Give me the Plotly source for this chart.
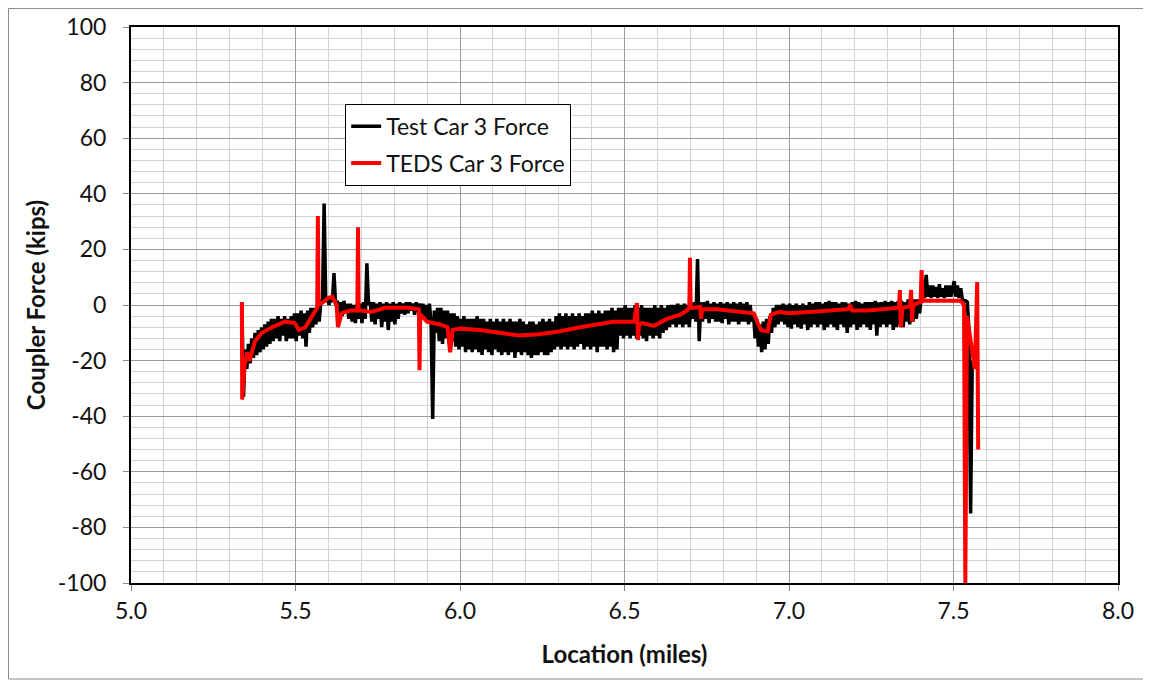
import plotly.graph_objects as go

# ---- Test Car 3 Force (regularly sampled, start location + step) ----
test_loc_start = 5.337
test_loc_step = 0.005
test_force = [
    1, -33, -16, -23, -14, -21, -12, -19, -10, -18,
    -9, -17, -8, -16, -7, -15, -6, -14, -5, -13,
    -5, -12, -4, -13, -5, -11, -4, -13, -5, -12,
    -4, -12, -3, -13, -3, -11, -2, -12, -3, -15,
    -2, -10, -1, -8, -1, -7, 0, -6, 1, 2,
    36.5, 1, 3, 0, 3, 1, 11.5, 0, 1.5, -3.5,
    1, -4, 1.5, -3, 0.5, -5, 0.5, -6, 0, -6.5,
    0.5, -5, 0.5, -6.5, 1, -5, 15, 0, 1, -6,
    1, -7, 0.5, -5, 1, -8, 0.5, -6, 1, -9,
    0.5, -6, 1, -7, 0.5, -5, 1, -3, 0.5, -3.5,
    1, -3, 1, -2, 0.5, -3.5, 1, -2.5, 0.5, -3,
    0.5, -4, 0, -6.5, 0.5, -6, -41, -2, -10, -1,
    -13, -1, -14, -2, -12, -2, -14, -3, -13, -3,
    -15, -4, -16, -5, -15, -4, -17, -5, -16, -5,
    -17, -5, -16, -4, -17, -5, -18, -5, -16, -6,
    -17, -5, -18, -6, -16, -5, -17, -6, -18, -5,
    -17, -6, -18, -5, -17, -6, -19, -6, -17, -5,
    -18, -6, -17, -7, -18, -6, -19, -6, -18, -7,
    -18, -6, -17, -5, -18, -6, -18, -5, -17, -6,
    -16, -4, -15, -3, -16, -4, -15, -3, -16, -4,
    -15, -3, -16, -4, -15, -3, -14, -4, -16, -3,
    -15, -3, -16, -2, -15, -3, -17, -2, -15, -3,
    -15, -2, -16, -2, -15, -1, -17, -2, -16, -1,
    -11, -1, -12, 0, -11, -1, -12, -1, -11, 0,
    -12, -1, -11, 0, -12, -1, -13, -1, -11, -1,
    -12, 0, -11, -1, -12, 0, -10, -1, -9, 0,
    -8, 0, -7, 0, -8, 0.5, -7, 0, -8, 0.5,
    -7, 0, -8, 0.5, -5, 1, -6, 16.5, -13, 1,
    -6, 1, -5, 1.5, -6.5, 0.5, -5, 1, -6, 0.5,
    -6, 1, -6.5, 0.5, -5, 1, -7, 0.5, -6, 1,
    -6, 0.5, -7, 1, -6, 0.5, -6, 1, -7, 0,
    -6, -3, -12, -5, -15, -7, -17, -6, -16, -5,
    -14, -4, -10, -1, -8, 0, -7, 0, -6, 0.5,
    -7, 0, -8, 0.5, -8.5, 0, -7, 0.5, -8, 0,
    -8.5, 0.5, -7, 0, -9, 1, -8, 0.5, -7, 1,
    -8, 1, -7, 0.5, -9, 1, -8, 1.5, -7, 1,
    -8, 1, -9, 0.5, -7, 1, -8, 1, -10, 0.5,
    -8, 1, -7, 1.5, -9, 1, -8, 0.5, -7, 1,
    -8, 1, -9, 1, -7, 1.5, -11, 1, -8, 1,
    -7, 1.5, -8, 1, -7, 1.5, -9, 1, -8, 1.5,
    -7, 1.5, -8, 1, -6, 2, -7, 1.5, -6, 2,
    -5, 2, -3, 3, 5, 2.5, 10.8, 3, 7, 2.5,
    7, 3, 6.5, 2.5, 7.5, 3, 6, 2.5, 7, 3,
    7, 3, 6, 8.6, 3, 7, 2.5, 6, 2, 1.5,
    1.5, 1, -9, -75, -20,
]

# ---- TEDS Car 3 Force ----
teds_loc = [
    5.337, 5.338, 5.345, 5.353, 5.360, 5.377, 5.398, 5.429, 5.468, 5.498,
    5.510, 5.530, 5.545, 5.559, 5.566, 5.568, 5.570, 5.584, 5.599, 5.612,
    5.625, 5.629, 5.640, 5.666, 5.685, 5.688, 5.690, 5.692, 5.702, 5.730,
    5.772, 5.842, 5.875, 5.877, 5.879, 5.884, 5.900, 5.939, 5.962, 5.970,
    5.978, 6.000, 6.060, 6.120, 6.180, 6.240, 6.300, 6.365, 6.420, 6.465,
    6.530, 6.538, 6.541, 6.544, 6.553, 6.590, 6.629, 6.670, 6.690, 6.697,
    6.699, 6.701, 6.710, 6.730, 6.733, 6.736, 6.780, 6.850, 6.893, 6.905,
    6.915, 6.935, 6.945, 6.970, 7.000, 7.060, 7.120, 7.180, 7.186, 7.192,
    7.240, 7.300, 7.334, 7.337, 7.340, 7.345, 7.368, 7.371, 7.374, 7.377,
    7.385, 7.400, 7.403, 7.406, 7.412, 7.440, 7.480, 7.520, 7.526, 7.532,
    7.536, 7.541, 7.565, 7.572, 7.575,
]
teds_force = [
    1, -34, -22, -17, -20, -13, -10, -8, -6, -6.5,
    -9, -8, -5, -2.5, -1, 32, 0, 1, 2.5, 3,
    0, -8, -3, -2, -2, -2, 28, -2, -2, -2.5,
    -1, -1, -1.5, -23.5, -5, -4, -6, -7, -8, -17,
    -9, -8.5, -9, -10, -11, -10.5, -9.5, -8, -7, -6,
    -6, 0.7, -12.6, -7, -6.5, -7.5, -5, -3.5, -2, -1,
    17, -1, -1, -0.7, -5, -1.5, -1.5, -2.5, -3, -6.5,
    -9, -9.5, -3.5, -2.5, -3, -2.5, -2, -1.5, 0, -2,
    -2, -1.5, -1, 5.4, -8, -1, -0.5, 5.4, -6, -0.5,
    0.5, 1, 12.6, 1.5, 1.5, 1.5, 1.5, 1.5, 1, 0,
    -100, -4, -23, 8.3, -52,
]

x_ticks = [5.0, 5.5, 6.0, 6.5, 7.0, 7.5, 8.0]
x_tick_text = ["5.0", "5.5", "6.0", "6.5", "7.0", "7.5", "8.0"]
y_ticks = [100, 80, 60, 40, 20, 0, -20, -40, -60, -80, -100]
y_tick_text = ["100", "80", "60", "40", "20", "0", "-20", "-40", "-60", "-80", "-100"]

FONT = "Lato"
TXT = "#111111"

fig = go.Figure()
fig.add_trace(go.Scatter(
    y=test_force, x0=test_loc_start, dx=test_loc_step,
    mode="lines", name="Test Car 3 Force", legendgroup="a",
    line=dict(color="#000000", width=3.5),
))
fig.add_trace(go.Scatter(
    x=teds_loc, y=teds_force,
    mode="lines", name="TEDS Car 3 Force", legendgroup="b",
    line=dict(color="#ff0000", width=4),
))

# the page body adds an 8px offset, so the figure is sized/margined to compensate
fig.update_layout(
    width=1143, height=675,
    margin=dict(l=123, r=33, t=19, b=100),
    paper_bgcolor="white", plot_bgcolor="white",
    font=dict(family=FONT, size=22, color=TXT),
    showlegend=True,
    legend=dict(
        x=0.217, y=0.862, xanchor="left", yanchor="top",
        bgcolor="white", bordercolor="#000000", borderwidth=1,
        font=dict(family=FONT, size=23, color=TXT),
        itemwidth=30, tracegroupgap=4, traceorder="grouped",
    ),
    xaxis=dict(
        range=[5.0, 8.0], tickvals=x_ticks, ticktext=x_tick_text,
        showgrid=True, gridcolor="#9a9a9a", gridwidth=1,
        minor=dict(dtick=0.1, showgrid=True, gridcolor="#d4d4d4", gridwidth=1),
        showline=True, linecolor="#000000", linewidth=2, mirror=True,
        ticks="outside", ticklen=6, tickcolor="#888888",
        ticklabelstandoff=0, zeroline=False, automargin=False,
        tickfont=dict(family=FONT, size=23, color=TXT),
        title=dict(text="<b>Location (miles)</b>", standoff=24,
                   font=dict(family=FONT, size=24, color=TXT)),
    ),
    yaxis=dict(
        range=[-100, 100], tickvals=y_ticks, ticktext=y_tick_text,
        showgrid=True, gridcolor="#9a9a9a", gridwidth=1,
        minor=dict(dtick=4, showgrid=True, gridcolor="#d4d4d4", gridwidth=1),
        showline=True, linecolor="#000000", linewidth=2, mirror=True,
        ticks="outside", ticklen=6, tickcolor="#888888",
        ticklabelstandoff=12, zeroline=False, automargin=False,
        tickfont=dict(family=FONT, size=23, color=TXT),
        title=dict(text="<b>Coupler Force (kips)</b>", standoff=5,
                   font=dict(family=FONT, size=24, color=TXT)),
    ),
    shapes=[dict(
        type="rect", xref="paper", yref="paper",
        x0=-0.1241, x1=1.0294, y0=-0.1727, y1=1.0333,
        line=dict(color="#8c8c8c", width=1), fillcolor="rgba(0,0,0,0)",
        layer="below",
    )],
)

fig.write_html("out.html")
